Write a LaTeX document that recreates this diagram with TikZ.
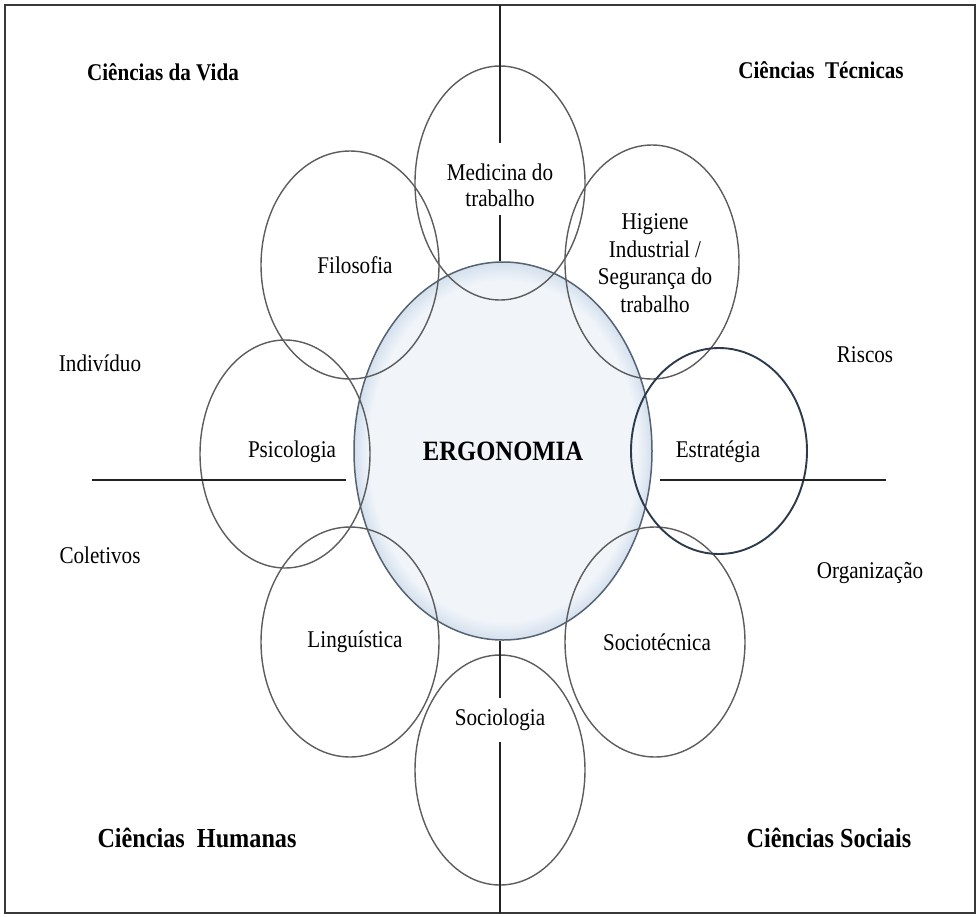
\documentclass[tikz,border=0pt]{standalone}
\usepackage{fontspec}
\setmainfont[FakeStretch=0.88]{Liberation Serif}
\usetikzlibrary{shapes.geometric}
\definecolor{ergocore}{RGB}{241,245,250}
\definecolor{ergorim}{RGB}{212,224,237}
\definecolor{ergoedge}{RGB}{84,98,114}
\definecolor{satgray}{RGB}{92,92,92}
\definecolor{satdark}{RGB}{44,58,76}
\definecolor{axisdark}{RGB}{34,34,34}
\pgfdeclareradialshading{ergoglow}{\pgfpoint{0bp}{0bp}}{%
  color(0bp)=(ergocore); color(22.5bp)=(ergocore); color(25bp)=(ergorim);
  color(50bp)=(ergorim)}
\tikzset{
  sat/.style={ellipse, draw=satgray, line width=1.4pt, inner sep=0pt},
  axisline/.style={draw=axisdark, line width=2pt},
  lbl/.style={font=\fontsize{24}{26}\selectfont, align=center, inner sep=2pt},
  quad/.style={font=\bfseries\fontsize{24}{28}\selectfont, inner sep=2pt},
  quadbig/.style={font=\bfseries\fontsize{27.5}{30}\selectfont, inner sep=2pt}
}

\begin{document}
\begin{tikzpicture}[x=1pt, y=-1pt]
\useasboundingbox (0,0) rectangle (977,916);
% outer frame
\draw[axisdark!90, line width=1.8pt] (5,5) rectangle (975,913);

% ---- centre ----
\node[ellipse, shade, shading=ergoglow, draw=ergoedge, line width=1.5pt,
      minimum width=298, minimum height=378, inner sep=0pt,
      font=\bfseries\fontsize{28}{30}\selectfont] (ergo) at (503,451) {ERGONOMIA};

% ---- disciplines ----
\foreach \nm/\x/\y/\rx/\ry in {
    med/500/183/85/117,
    hig/652/262/87/117,
    soct/655/642/90/115,
    socl/500/770/85/115,
    ling/350/642/89/115,
    psic/285/454/85/114,
    filo/350/265/89/114}{
  \node[sat, minimum width=2*\rx, minimum height=2*\ry] (\nm) at (\x,\y) {};
}
\node[sat, draw=satdark, line width=1.9pt, minimum width=176, minimum height=206]
  (estr) at (719,451) {};

\node[lbl] (medtxt)  at (500,185) {Medicina do\\trabalho};
\node[lbl, font=\fontsize{24}{27.5}\selectfont] (higtxt) at (655,263)
  {Higiene\\Industrial /\\Segurança do\\trabalho};
\node[lbl] (filotxt) at (355,265) {Filosofia};
\node[lbl] (psictxt) at (292,452) {Psicologia};
\node[lbl] (estrtxt) at (718,452) {Estratégia};
\node[lbl] (lingtxt) at (355,642) {Linguística};
\node[lbl] (socttxt) at (657,642) {Sociotécnica};
\node[lbl, inner ysep=11pt] (socltxt) at (500,720) {Sociologia};

% ---- axes ----
\coordinate (axisN) at (500,5);
\coordinate (axisS) at (500,913);
\coordinate (axisW) at (92,480);
\coordinate (axisE) at (886,480);
\draw[axisline] (axisN) -- ([yshift=18pt]medtxt.north);
\draw[axisline] ([yshift=-6pt]medtxt.south) -- (medtxt.south |- ergo.north);
\draw[axisline] (socltxt.north |- ergo.south) -- (socltxt.north);
\draw[axisline] (socltxt.south) -- (axisS);
\draw[axisline, shorten >=7pt] (axisW) -- (ergo.west |- axisW);
\draw[axisline, shorten >=7pt] (axisE) -- (ergo.east |- axisE);

% ---- axis poles ----
\node[lbl] (indiv) at (100,363) {Indivíduo};
\node[lbl] (colet) at (100,555) {Coletivos};
\node[lbl] (riscos) at (865,355) {Riscos};
\node[lbl] (organ) at (870,573) {Organização};

% ---- quadrants ----
\node[quad] (vida) at (163,72) {Ciências da Vida};
\node[quad] (tecn) at (821,70) {Ciências~~Técnicas};
\node[quadbig] (human) at (197,838) {Ciências~~Humanas};
\node[quadbig] (socia) at (829,838) {Ciências Sociais};
\end{tikzpicture}
\end{document}
